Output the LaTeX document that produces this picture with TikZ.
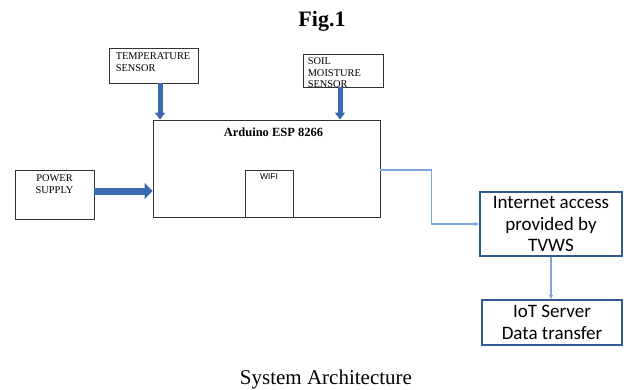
\documentclass[tikz,border=0pt]{standalone}
\usepackage{fontspec}
\setmainfont{Liberation Serif}
\newfontfamily\calibfont{Carlito}
\newfontfamily\arialfont{Liberation Sans}
\usepackage{tikz}
\usetikzlibrary{
	positioning,
	arrows.meta
}
\definecolor{fatblue}{HTML}{3C6AAE}
\definecolor{linkblue}{HTML}{7BA7DC}
\definecolor{boxblue}{HTML}{2F5A94}

\tikzset{
	block/.style={draw=black!80, line width=0.9pt, inner sep=0pt},
	netbox/.style={draw=boxblue, line width=2.2pt, align=center, inner sep=0pt,
		font=\calibfont\fontsize{19}{21.5}\selectfont},
	tinytext/.style={font=\fontsize{10.4}{11.4}\selectfont, inner sep=0pt},
	feed/.style={draw=fatblue, line width=5pt, -{Triangle[width=10pt,length=7pt]}},
	widefeed/.style={draw=fatblue, line width=7pt, -{Triangle[width=16pt,length=8pt]}},
	link/.style={draw=linkblue, line width=1.1pt, -{Triangle[width=4pt,length=4pt]}}
}

\begin{document}
\begin{tikzpicture}[x=1pt, y=-1pt]
		\useasboundingbox (0,0) rectangle (626,389);

		\node[font=\bfseries\fontsize{22}{24}\selectfont, anchor=base] (title) at (322,26.5) {Fig.1};
		\node[font=\fontsize{21}{23}\selectfont, anchor=base]          (caption) at (326,384) {System Architecture};

		\node[block, minimum width=89pt, minimum height=35pt,
			label={[tinytext, align=left, anchor=north west, xshift=7pt, yshift=-5pt]north west:TEMPERATURE\\SENSOR}]
			(temp) at (153.5,65.5) {};
		\node[block, minimum width=80pt, minimum height=33pt,
			label={[tinytext, align=left, anchor=north west, xshift=5pt, yshift=-4pt]north west:SOIL\\MOISTURE\\SENSOR}]
			(soil) at (343,70.5) {};
		\node[block, minimum width=79pt, minimum height=49pt,
			label={[tinytext, align=center, anchor=north, yshift=-5pt]north:POWER\\SUPPLY}]
			(power) at (54.5,194.5) {};
		\node[block, minimum width=227pt, minimum height=97pt,
			label={[font=\bfseries\fontsize{12.5}{14}\selectfont, inner sep=0pt, anchor=north, xshift=7pt, yshift=-8pt]north:Arduino ESP 8266}]
			(arduino) at (266.5,168.5) {};
		\node[block, minimum width=48pt, minimum height=47pt,
			label={[font=\arialfont\fontsize{8.5}{10}\selectfont, inner sep=0pt, anchor=north, yshift=-4pt]north:WIFI}]
			(wifi) at (269,193.5) {};

		\node[netbox, minimum width=142pt, minimum height=64pt] (inet) at (551,224) {Internet access\\provided by\\TVWS};
		\node[netbox, minimum width=140pt, minimum height=45pt] (iot)  at (552,322.5) {IoT Server\\Data transfer};

		% sensors and supply into the board
		\draw[feed]     ([xshift=6.5pt]temp.south) -- ([xshift=6.5pt]temp.south |- arduino.north);
		\draw[feed]     ([xshift=-3pt]soil.south)  -- ([xshift=-3pt]soil.south |- arduino.north);
		\draw[widefeed] ([yshift=3.5pt]power.east) -- ([yshift=3.5pt]power.east -| arduino.west);

		% board to network to server
		\draw[link] ([yshift=-1.5pt]arduino.east) -- ++(51,0) |- (inet.west);
		\draw[link] (inet.south) -- (inet.south |- iot.north);
	\end{tikzpicture}
\end{document}
